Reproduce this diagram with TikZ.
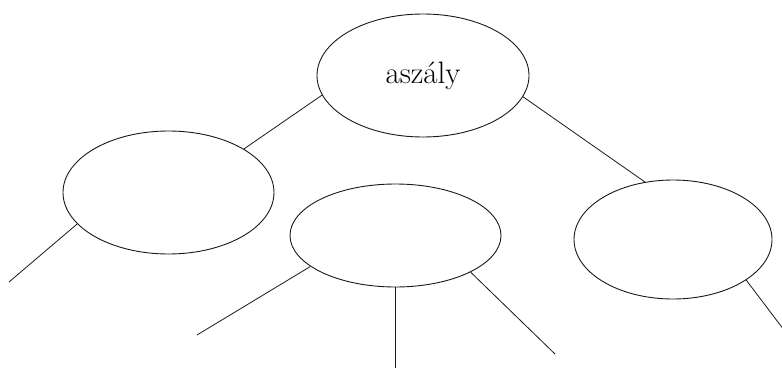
\documentclass[tikz,border=0pt]{standalone}
\usetikzlibrary{shapes.geometric}
\begin{document}
\begin{tikzpicture}[x=1pt,y=1pt,
  bubble/.style={draw=black!90,ellipse,inner sep=0pt,line width=0.9pt},
  link/.style={draw=black!90,line width=0.8pt}]
\useasboundingbox (0,0) rectangle (782,368);
\node[bubble,minimum width=212pt,minimum height=123pt] (top) at (423,292.5) {\fontsize{31}{37}\selectfont aszály};
\node[bubble,minimum width=211pt,minimum height=123pt] (left) at (168.5,175.5) {};
\node[bubble,minimum width=211pt,minimum height=103pt] (mid) at (395.5,132.5) {};
\node[bubble,minimum width=198pt,minimum height=119pt] (right) at (673,128.5) {};
\coordinate (e1) at (9,86);
\coordinate (e2) at (197,33);
\coordinate (e3) at (395.5,0);
\coordinate (e4) at (555,14);
\coordinate (e5) at (784,38);
\draw[link] (top.191) -- (left.30);
\draw[link] (top.348) -- (right.116);
\draw[link] (left.199) -- (e1);
\draw[link] (mid.200) -- (e2);
\draw[link] (mid.south) -- (e3);
\draw[link] (mid.334) -- (e4);
\draw[link] (right.331) -- (e5);
\end{tikzpicture}
\end{document}
